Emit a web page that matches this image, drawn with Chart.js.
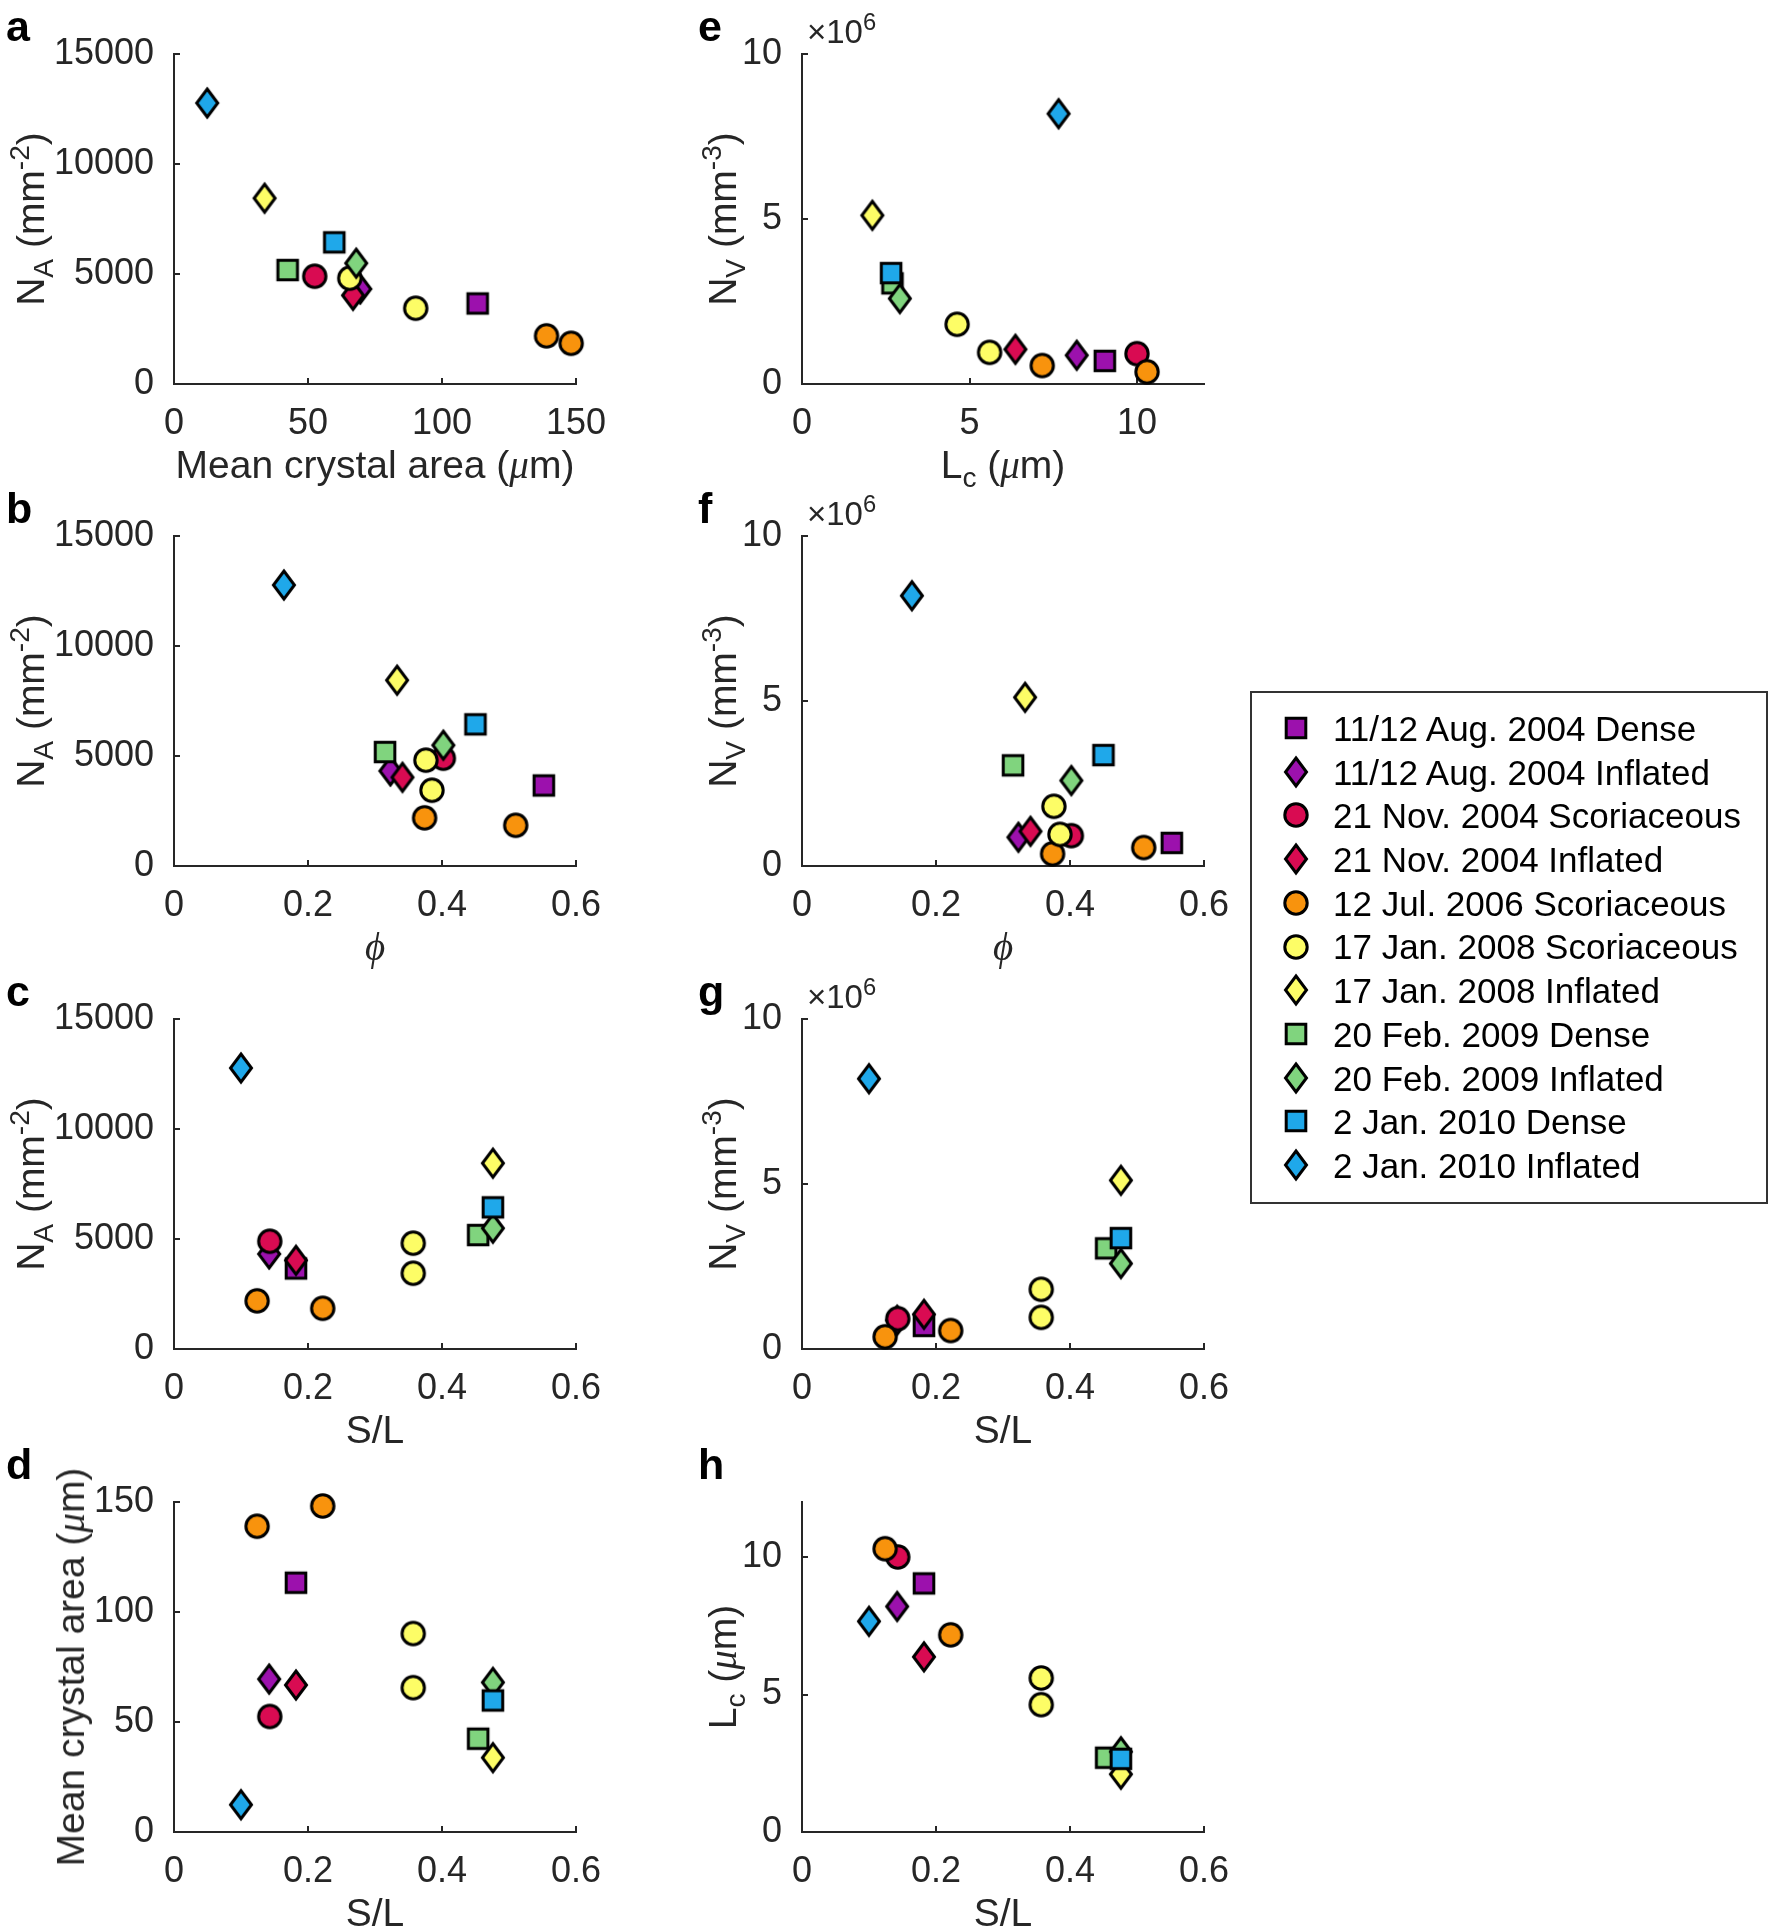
<!DOCTYPE html>
<html>
<head>
<meta charset="utf-8">
<script src="https://cdn.jsdelivr.net/npm/chart.js@4.4.1/dist/chart.umd.min.js"></script>
<style>
  body { margin:0; background:#fff; width:1772px; height:1929px; position:relative; overflow:hidden;
         font-family:"Liberation Sans", Arial, sans-serif; color:#262626; }
  canvas.panel { position:absolute; }
  .txt { position:absolute; white-space:nowrap; line-height:1; }
  .txt sub { font-size:0.72em; vertical-align:-0.32em; line-height:0; }
  .txt sup { font-size:0.72em; vertical-align:0.55em; line-height:0; }
  .gr { font-family:"Liberation Serif", "DejaVu Serif", serif; font-style:italic; }
  .letter { font-weight:bold; font-size:43px; color:#000; }
  #legend { position:absolute; left:1250px; top:691px; width:514px; height:509px; border:2px solid #333; }
  .legtxt { color:#000; }
</style>
</head>
<body>
<div id="legend"></div>
<script>
// ---- data: one entry per sample group ----
const seriesNames = [
    '11/12 Aug. 2004 Dense', '11/12 Aug. 2004 Inflated',
    '21 Nov. 2004 Scoriaceous', '21 Nov. 2004 Inflated',
    '12 Jul. 2006 Scoriaceous',
    '17 Jan. 2008 Scoriaceous', '17 Jan. 2008 Inflated',
    '20 Feb. 2009 Dense', '20 Feb. 2009 Inflated',
    '2 Jan. 2010 Dense', '2 Jan. 2010 Inflated'
];
const seriesShapes = ['square', 'diamond', 'circle', 'diamond', 'circle', 'circle', 'diamond', 'square', 'diamond', 'square', 'diamond'];
const seriesColors = ['#9c11ad', '#9c11ad', '#d90b52', '#d90b52', '#f8930d', '#fdfd66', '#fdfd66', '#80d47e', '#80d47e', '#1fa8ea', '#1fa8ea'];

// mean crystal area (um)
const crystalArea = [[113.3], [69.5], [52.5], [66.8], [139.0, 148.2], [65.6, 90.2], [33.8], [42.4], [68.0], [59.8], [12.4]];
// N_A (mm^-2)
const numberArea = [[3660], [4320], [4900], [4030], [2190, 1850], [4810, 3445], [8445], [5180], [5490], [6440], [12770]];
// porosity phi
const porosity = [[0.552], [0.323], [0.402], [0.341], [0.374, 0.510], [0.376, 0.385], [0.333], [0.315], [0.402], [0.450], [0.164]];
// S/L
const sOverL = [[0.182], [0.142], [0.143], [0.182], [0.124, 0.222], [0.357, 0.357], [0.476], [0.454], [0.476], [0.476], [0.100]];
// N_V (x10^6 mm^-3)
const numberVolume = [[0.70], [0.87], [0.92], [1.05], [0.37, 0.56], [1.81, 0.96], [5.11], [3.05], [2.59], [3.36], [8.19]];
// L_c (um)
const crystalLength = [[9.04], [8.2], [10.0], [6.37], [10.3, 7.17], [4.63, 5.6], [2.1], [2.7], [2.92], [2.66], [7.66]];

// tick labels
const ticksNA = [0, 5000, 10000, 15000];
const ticksArea = [0, 50, 100, 150];
const ticksFrac = [0, 0.2, 0.4, 0.6];
const ticksFive = [0, 5, 10];

// ---- layout ----
const FONT = '"Liberation Sans", Arial, sans-serif';
const colLeft = [174, 802];
const rowTop = [54, 536, 1019, 1502];
const plotW = 402, plotH = 330;
// padding big enough that chart.js never shrinks the plot area for edge labels
const PADL = 150, PADT = 70, PADR = 90, PADB = 80;

const muM = '(<span class="gr">&mu;</span>m)';
const panels = [
    { id: 'a', col: 0, row: 0, x: crystalArea, y: numberArea, xMax: 150, xTicks: ticksArea, yMax: 15000, yTicks: ticksNA,
      xTitle: 'Mean crystal area ' + muM, yTitle: 'N<sub>A</sub> (mm<sup>-2</sup>)' },
    { id: 'b', col: 0, row: 1, x: porosity, y: numberArea, xMax: 0.6, xTicks: ticksFrac, yMax: 15000, yTicks: ticksNA,
      xTitle: '<span class="gr">&#981;</span>', yTitle: 'N<sub>A</sub> (mm<sup>-2</sup>)' },
    { id: 'c', col: 0, row: 2, x: sOverL, y: numberArea, xMax: 0.6, xTicks: ticksFrac, yMax: 15000, yTicks: ticksNA,
      xTitle: 'S/L', yTitle: 'N<sub>A</sub> (mm<sup>-2</sup>)' },
    { id: 'd', col: 0, row: 3, x: sOverL, y: crystalArea, xMax: 0.6, xTicks: ticksFrac, yMax: 150, yTicks: ticksArea,
      xTitle: 'S/L', yTitle: 'Mean crystal area ' + muM },
    { id: 'e', col: 1, row: 0, x: crystalLength, y: numberVolume, xMax: 12, xTicks: ticksFive, yMax: 10, yTicks: ticksFive,
      xTitle: 'L<sub>c</sub> ' + muM, yTitle: 'N<sub>V</sub> (mm<sup>-3</sup>)', mult: true },
    { id: 'f', col: 1, row: 1, x: porosity, y: numberVolume, xMax: 0.6, xTicks: ticksFrac, yMax: 10, yTicks: ticksFive,
      xTitle: '<span class="gr">&#981;</span>', yTitle: 'N<sub>V</sub> (mm<sup>-3</sup>)', mult: true },
    { id: 'g', col: 1, row: 2, x: sOverL, y: numberVolume, xMax: 0.6, xTicks: ticksFrac, yMax: 10, yTicks: ticksFive,
      xTitle: 'S/L', yTitle: 'N<sub>V</sub> (mm<sup>-3</sup>)', mult: true },
    { id: 'h', col: 1, row: 3, x: sOverL, y: crystalLength, xMax: 0.6, xTicks: ticksFrac, yMax: 12, yTicks: ticksFive,
      xTitle: 'S/L', yTitle: 'L<sub>c</sub> ' + muM }
];

// ---- markers ----
function makeMarker(shape, color) {
    const c = document.createElement('canvas');
    c.width = 36; c.height = 42;
    const g = c.getContext('2d');
    const cx = 18, cy = 21;
    g.fillStyle = color;
    g.strokeStyle = '#000';
    g.lineWidth = 3;
    g.lineJoin = 'miter';
    g.beginPath();
    if (shape === 'circle') {
        g.arc(cx, cy, 11.2, 0, Math.PI * 2);
    } else if (shape === 'square') {
        g.rect(cx - 9.8, cy - 9.8, 19.6, 19.6);
    } else {
        g.moveTo(cx, cy - 14);
        g.lineTo(cx + 10.5, cy);
        g.lineTo(cx, cy + 14);
        g.lineTo(cx - 10.5, cy);
        g.closePath();
    }
    g.fill();
    g.stroke();
    return c;
}
const markers = seriesShapes.map((s, i) => makeMarker(s, seriesColors[i]));

// ---- text helpers ----
function addText(html, size, left, top, cls, transform) {
    const d = document.createElement('div');
    d.className = 'txt' + (cls ? ' ' + cls : '');
    d.innerHTML = html;
    d.style.fontSize = size + 'px';
    d.style.left = left + 'px';
    d.style.top = top + 'px';
    if (transform) {
        d.style.transformOrigin = '0 0';
        d.style.transform = transform;
    }
    document.body.appendChild(d);
    return d;
}
const BASE = 0.8465; // baseline offset from top, line-height 1

function scaleOpts(max, ticks, isX) {
    return {
        type: 'linear',
        min: 0,
        max: max,
        afterBuildTicks: s => { s.ticks = ticks.map(v => ({ value: v })); },
        afterFit: s => { if (isX) s.height = PADB; else s.width = PADL; },
        ticks: {
            font: { family: FONT, size: 36, lineHeight: 1 },
            color: '#262626',
            padding: isX ? 28 : 26,
            maxRotation: 0,
            autoSkip: false,
            callback: v => String(v)
        },
        grid: { drawOnChartArea: false, drawTicks: true, tickLength: -6, color: '#262626', lineWidth: 2 },
        border: { display: true, color: '#262626', width: 2 }
    };
}

panels.forEach(p => {
    const left = colLeft[p.col], top = rowTop[p.row];
    const cv = document.createElement('canvas');
    cv.className = 'panel';
    cv.width = plotW + PADL + PADR;
    cv.height = plotH + PADT + PADB;
    cv.style.left = (left - PADL) + 'px';
    cv.style.top = (top - PADT) + 'px';
    document.body.appendChild(cv);

    const datasets = seriesNames.map((name, i) => ({
        label: name,
        data: p.x[i].map((xv, k) => ({ x: xv, y: p.y[i][k] })),
        pointStyle: markers[i],
        pointRadius: 11,
        order: -i,
        clip: false
    }));

    new Chart(cv, {
        type: 'scatter',
        data: { datasets },
        options: {
            responsive: false,
            animation: false,
            devicePixelRatio: 1,
            events: [],
            layout: { padding: { top: PADT, right: PADR, left: 0, bottom: 0 } },
            plugins: { legend: { display: false }, tooltip: { enabled: false } },
            scales: { x: scaleOpts(p.xMax, p.xTicks, true), y: scaleOpts(p.yMax, p.yTicks, false) }
        }
    });

    // axis titles
    const ts = 39;
    addText(p.xTitle, ts, left + plotW / 2, top + plotH + 94 - BASE * ts, '', 'translateX(-50%)');
    const yBase = p.col === 0 ? (p.id === 'd' ? 84 : 44) : 736;
    addText(p.yTitle, ts, yBase, top + plotH / 2, '', 'rotate(-90deg) translate(-50%, -' + (BASE * ts) + 'px)');

    // panel letter
    const lb = p.row === 3 ? 1479 : top - 13;
    addText(p.id, 43, p.col === 0 ? 6 : 698, lb - BASE * 43, 'letter');

    // exponent label
    if (p.mult) addText('&times;10<sup>6</sup>', 33, left + 5, top - 11 - BASE * 33);
});

// ---- legend ----
seriesNames.forEach((name, i) => {
    const yc = 728 + i * 43.7;
    const m = document.createElement('canvas');
    m.width = markers[i].width; m.height = markers[i].height;
    m.getContext('2d').drawImage(markers[i], 0, 0);
    m.style.position = 'absolute';
    m.style.left = (1296 - m.width / 2) + 'px';
    m.style.top = (yc - m.height / 2) + 'px';
    document.body.appendChild(m);
    addText(name, 35, 1333, yc - 17.1, 'legtxt');
});
</script>
</body>
</html>
